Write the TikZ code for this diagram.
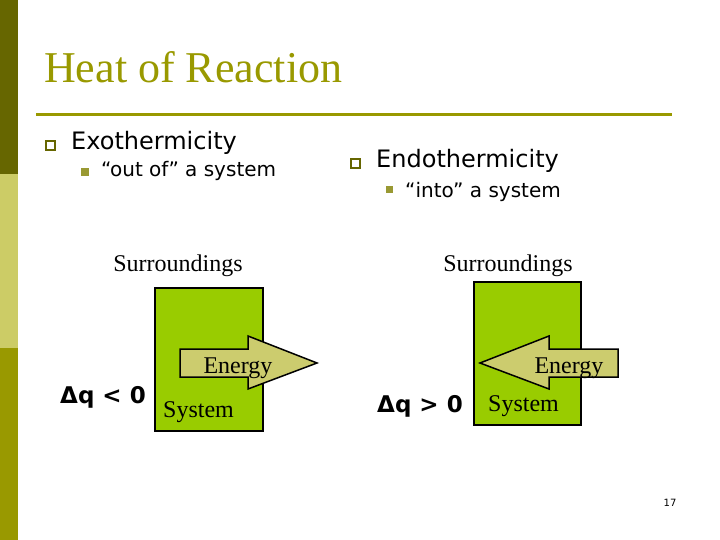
\documentclass[tikz,border=0pt]{standalone}
\usepackage{fontspec}
\setmainfont{Liberation Serif}
\setsansfont{DejaVu Sans}
\usetikzlibrary{positioning}
\definecolor{darkolive}{HTML}{666600}
\definecolor{paleolive}{HTML}{CCCC66}
\definecolor{olive}{HTML}{999900}
\definecolor{bulletolive}{HTML}{999933}
\definecolor{sysgreen}{HTML}{99CC00}
\definecolor{energykhaki}{HTML}{CCCC6E}

\tikzset{
  title/.style={anchor=base west, inner sep=0pt, text=olive, font=\fontsize{44}{48}\selectfont},
  bullet/.style={anchor=base west, inner sep=0pt, font=\sffamily\fontsize{24}{27}\selectfont},
  subbullet/.style={anchor=base west, inner sep=0pt, font=\sffamily\fontsize{20}{23}\selectfont},
  label/.style={anchor=base, inner sep=0pt, font=\fontsize{24}{26}\selectfont},
  dq/.style={anchor=base west, inner sep=0pt, font=\sffamily\bfseries\fontsize{23}{26}\selectfont},
  sysbox/.style={draw=black, line width=1.5pt, fill=sysgreen},
  energyarrow/.style={draw=black, line width=1.5pt, fill=energykhaki, line join=miter},
}

\begin{document}
\begin{tikzpicture}[x=1pt,y=-1pt]
	\useasboundingbox (0,0) rectangle (720,540);
	% side bar
	\fill[darkolive] (0,0) rectangle (18,174);
	\fill[paleolive] (0,174) rectangle (18,348);
	\fill[olive] (0,348) rectangle (18,540);
	% title and rule
	\node[title] (ttl) at (44,83) {Heat of Reaction};
	\draw[olive, line width=3pt] (36,115) -- (672,115);
	% bullets
	\draw[darkolive, line width=1.8pt] (46,141) rectangle (55,150);
	\node[bullet] (exo) at (71,150) {Exothermicity};
	\fill[bulletolive] (81,168) rectangle (89,176);
	\node[subbullet] (out) at (101,177) {“out of” a system};
	\draw[darkolive, line width=1.8pt] (351,159) rectangle (360,168);
	\node[bullet] (endo) at (376,168) {Endothermicity};
	\fill[bulletolive] (386,186) rectangle (393,193);
	\node[subbullet] (into) at (405,197) {“into” a system};
	% exothermic system
	\node[label] (surrL) at (178,271) {Surroundings};
	\draw[sysbox] (155,288) rectangle (263,431);
	\draw[energyarrow] (180,349) -- (248,349) -- (248,336) -- (317,363) -- (248,389) -- (248,377) -- (180,377) -- cycle;
	\node[label] (enL) at (238,373) {Energy};
	\node[label, anchor=base west] (sysL) at (163,417) {System};
	\node[dq] (dqL) at (60,403) {Δq < 0};
	% endothermic system
	\node[label] (surrR) at (508,271) {Surroundings};
	\draw[sysbox] (474,282) rectangle (581,425);
	\draw[energyarrow] (618,349) -- (549,349) -- (549,336) -- (480,363) -- (549,389) -- (549,377) -- (618,377) -- cycle;
	\node[label] (enR) at (569,373) {Energy};
	\node[label, anchor=base west] (sysR) at (488,411) {System};
	\node[dq] (dqR) at (377,412) {Δq > 0};
	% page number
	\node[anchor=base, inner sep=0pt, font=\sffamily\fontsize{10}{12}\selectfont] (pg) at (670,506) {17};
\end{tikzpicture}
\end{document}
